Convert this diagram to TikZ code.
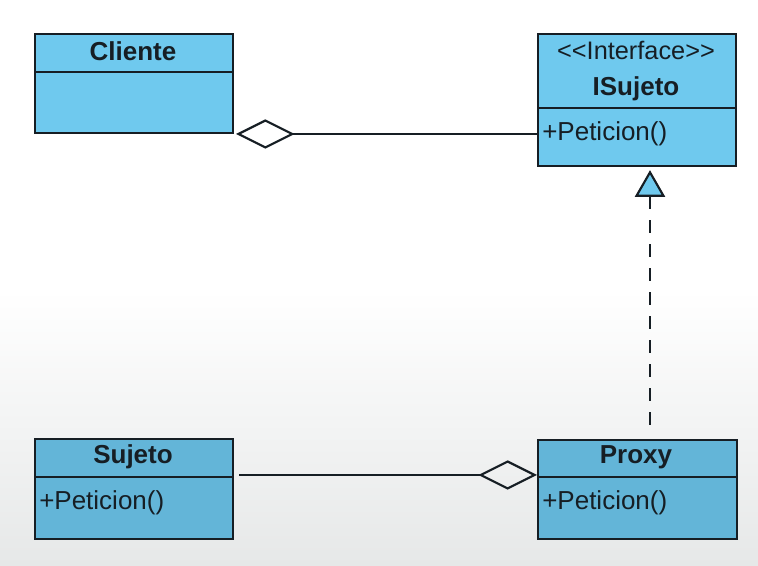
\documentclass[tikz,border=0pt]{standalone}
\usepackage{fontspec}
\setmainfont{Liberation Sans}
\usetikzlibrary{arrows.meta}
\definecolor{boxtop}{RGB}{111,201,238}
\definecolor{boxbot}{RGB}{99,181,216}
\definecolor{bggrey}{RGB}{230,232,232}
\definecolor{ink}{RGB}{22,30,36}
\begin{document}
\begin{tikzpicture}[x=0.75pt,y=-0.75pt,
  classbox/.style={draw=ink, line width=1.6pt, rectangle, anchor=north west, inner sep=0pt},
  divider/.style={draw=ink, line width=1.6pt},
  ctitle/.style={font=\fontsize{19.5}{22}\selectfont\bfseries, text=ink, inner sep=0pt},
  stereo/.style={font=\fontsize{19}{21}\selectfont, text=ink, inner sep=0pt},
  member/.style={font=\fontsize{19.5}{22}\selectfont, text=ink, inner sep=0pt, anchor=west},
  aggline/.style={draw=ink, line width=1.6pt, -{Diamond[open, length=44pt, width=22pt]}},
  realize/.style={draw=ink, line width=1.6pt, dash pattern=on 9.75pt off 8.25pt,
    -{Triangle[fill=boxtop, length=20pt, width=22.5pt]}}
]
\useasboundingbox (0,0) rectangle (758,566);
\fill[white] (0,0) rectangle (758,566);
\shade[top color=white, bottom color=bggrey] (0,290) rectangle (758,566);

% Cliente
\node[classbox, fill=boxtop, minimum width=148.5pt, minimum height=74.25pt] (cliente) at (34,33) {};
\draw[divider] (cliente.west |- 0,72) -- (cliente.east |- 0,72);
\node[ctitle] (clienteT) at (133,51) {Cliente};

% ISujeto
\node[classbox, fill=boxtop, minimum width=148.5pt, minimum height=99pt] (isujeto) at (537,33) {};
\draw[divider] (isujeto.west |- 0,108) -- (isujeto.east |- 0,108);
\node[stereo] (isujetoS) at (636,50) {<\kern0pt<Interface>\kern0pt>};
\node[ctitle] (isujetoT) at (636,89) {ISujeto};
\node[member] (isujetoM) at (542,134) {+Peticion()};

% Sujeto
\node[classbox, fill=boxbot, minimum width=148.5pt, minimum height=75pt] (sujeto) at (34,438) {};
\draw[divider] (sujeto.west |- 0,477) -- (sujeto.east |- 0,477);
\node[ctitle] (sujetoT) at (133,457) {Sujeto};
\node[member] (sujetoM) at (39,503) {+Peticion()};

% Proxy
\node[classbox, fill=boxbot, minimum width=149.25pt, minimum height=74.25pt] (proxy) at (537,439) {};
\draw[divider] (proxy.west |- 0,477) -- (proxy.east |- 0,477);
\node[ctitle] (proxyT) at (636,457) {Proxy};
\node[member] (proxyM) at (542,503) {+Peticion()};

% connectors
\coordinate (ctip) at (236,134);
\draw[aggline] (isujeto.west |- ctip) -- (ctip);

\coordinate (lny) at (0,475);
\draw[aggline, shorten <=3.75pt] (sujeto.east |- lny) -- (proxy.west |- lny);

\coordinate (trix) at (650,0);
\draw[realize, shorten <=10.5pt, shorten >=2.25pt] (proxy.north -| trix) -- (isujeto.south -| trix);
\end{tikzpicture}
\end{document}
